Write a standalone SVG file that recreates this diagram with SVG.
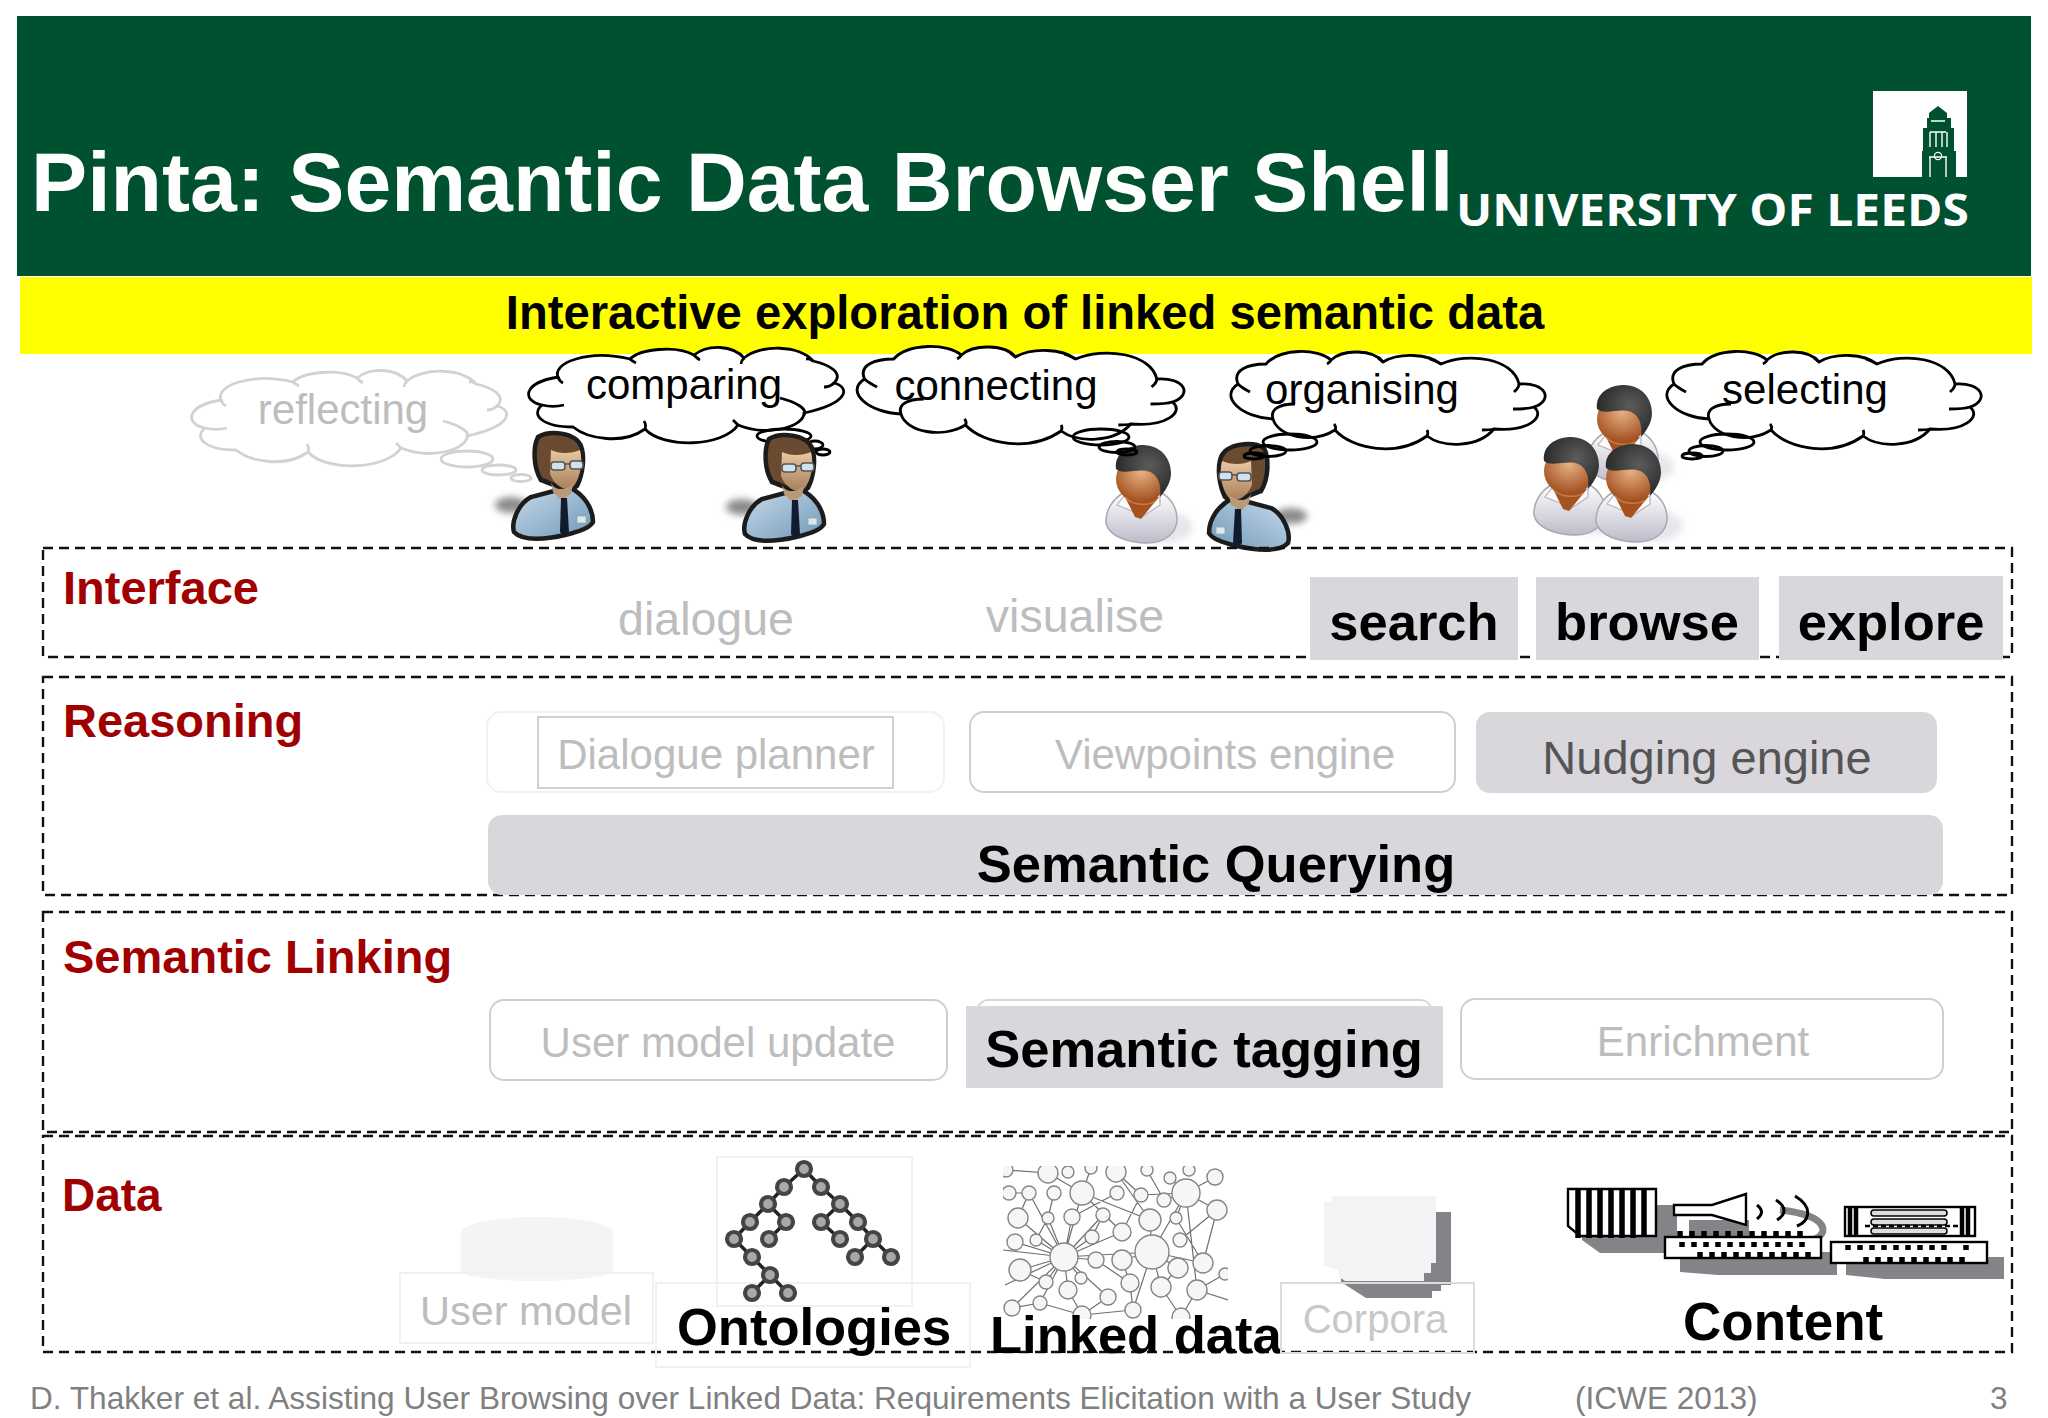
<svg xmlns="http://www.w3.org/2000/svg" xmlns:xlink="http://www.w3.org/1999/xlink" width="2048" height="1418" viewBox="0 0 2048 1418">
<style>
text{font-family:"Liberation Sans",Arial,sans-serif}
.layer{font-size:47px;font-weight:700;fill:#a00000}
.dash{fill:none;stroke:#111;stroke-width:2.4;stroke-dasharray:10 6}
.lbl{font-size:42px;fill:#bdbdbd;text-anchor:middle}
.bold{font-size:52.5px;font-weight:700;fill:#000}
.mid{text-anchor:middle}
.fillbox{fill:#d9d7dc}
.ghost{fill:#fff;stroke:#cfcfcf;stroke-width:2}
.faint{fill:none;stroke:#f1f0f3;stroke-width:2}
.tree{fill:#a8a8a8;stroke:#444;stroke-width:4.2}
.ld{fill:#f6f6f6;stroke:#858585;stroke-width:1.4}
.foot{font-size:31.6px;fill:#808080}
.sh{fill:#858387}
.think{font-size:42px;fill:#000;stroke:none}
</style>
<defs>
<linearGradient id="body" x1="0" y1="0" x2="1" y2="1"><stop offset="0" stop-color="#c8dcec"/><stop offset="1" stop-color="#6f97b7"/></linearGradient>
<linearGradient id="skin" x1="0" y1="0" x2="0" y2="1"><stop offset="0" stop-color="#e9c8a4"/><stop offset="1" stop-color="#a9805a"/></linearGradient>
<radialGradient id="dskin" cx=".5" cy=".35" r=".65"><stop offset="0" stop-color="#e8b184"/><stop offset="1" stop-color="#a04d1c"/></radialGradient>
<radialGradient id="hair" cx=".6" cy=".4" r=".7"><stop offset="0" stop-color="#5c5c5c"/><stop offset="1" stop-color="#222"/></radialGradient>
<linearGradient id="shirt" x1="0" y1="0" x2="0" y2="1"><stop offset="0" stop-color="#fff"/><stop offset="1" stop-color="#bdbbca"/></linearGradient>
<filter id="soft" x="-50%" y="-50%" width="200%" height="200%"><feGaussianBlur stdDeviation="3.5"/></filter>
<clipPath id="ldclip"><rect x="1003" y="1166" width="225" height="153"/></clipPath>
<symbol id="cloud" viewBox="-4 -4 328 106" width="328" height="106" overflow="visible">
<path d="M30,30C24,16 60,2 102,12C112,2 148,-2 166,8C180,-3 205,-2 216,11C232,-3 272,-2 285,14C302,18 316,26 306,36C322,40 322,56 276,66C276,80 240,90 210,78C195,100 135,102 117,82C95,98 60,92 45,80C15,80 2,68 14,58C-6,54 -6,36 30,30Z" fill="inherit"/>
<path d="M30,30C31,33 33,35 35,36M14,58C22,60 28,60 36,58M252,51C268,55 280,62 276,68M306,36C304,38 300,40 296,40M102,12C104,14 106,15 108,16M166,8C168,10 170,12 172,13M216,11C214,13 213,15 213,17M285,14C282,11 280,12 278,12M117,82C118,79 118,77 116,74M210,78C208,76 206,74 205,73" fill="none"/>
</symbol>
<symbol id="cloudB" viewBox="-4 -4 328 106" width="328" height="106" overflow="visible">
<path d="M10,32C4,18 20,12 38,12C52,-4 90,-4 103,8C115,-3 145,-3 155,10C172,0 200,2 213,12C240,0 285,6 291,32C318,30 326,48 306,55C318,65 300,80 266,77C250,96 215,96 199,84C170,105 125,98 107,78C85,92 50,85 45,67C15,66 -10,45 10,32Z" fill="inherit"/>
<path d="M10,32C14,36 18,38 22,40M45,67C42,58 50,52 67,52M285,57C295,57 300,57 306,55M291,32C291,36 288,38 286,40M213,12C208,9 205,8 202,7M155,10C153,8 152,7 150,6M103,8C102,10 101,11 99,12M199,84C200,82 200,80 199,78M107,78C108,76 108,74 106,72M266,77C262,78 258,78 254,78" fill="none"/>
</symbol>
<symbol id="man" viewBox="0 0 104 110" width="104" height="110" overflow="visible">
<ellipse cx="18" cy="73" rx="16" ry="8" fill="#8c8c8c" filter="url(#soft)"/>
<path d="M38,65C25,72 18,90 21,100C30,110 55,107 72,103C85,100 97,96 100,90C100,75 90,62 76,55Z" fill="url(#body)" stroke="#1c1c1c" stroke-width="4.5"/>
<path d="M45,5C56,-2 82,0 88,14C92,24 90,42 84,54C76,62 60,52 48,48C40,35 40,15 45,5Z" fill="#6a4a30" stroke="#1c1c1c" stroke-width="4.5"/>
<path d="M58,18C66,22 78,22 87,18C90,30 88,45 80,55C72,60 62,54 57,42Z" fill="url(#skin)"/>
<path d="M58,50C60,58 70,60 80,52L78,62L68,68L60,60Z" fill="#b99a77"/>
<rect x="58" y="30" width="14" height="8" rx="3" fill="#cfe3ee" stroke="#555" stroke-width="1.6"/>
<rect x="77" y="29" width="13" height="8" rx="3" fill="#cfe3ee" stroke="#555" stroke-width="1.6"/>
<path d="M72,32H77" stroke="#555" stroke-width="1.6"/>
<path d="M68,66H74L76,100L71,105L67,100Z" fill="#111b2c"/>
<rect x="84" y="84" width="9" height="7" fill="#dde8ee" stroke="#8aa" stroke-width=".8"/>
</symbol>
<symbol id="person" viewBox="0 0 90 100" width="90" height="100" overflow="visible">
<ellipse cx="60" cy="82" rx="28" ry="16" fill="#e8e6ec" filter="url(#soft)"/>
<path d="M20,47C6,54 0,68 1,78C4,92 25,98 42,98C60,98 72,88 72,74C72,62 65,52 55,47Z" fill="url(#shirt)" stroke="#a9a7b2" stroke-width="1.5"/>
<path d="M22,47L12,60L27,66L37,72L55,60L55,46Z" fill="#fbfbfb" stroke="#b4b2bc" stroke-width="1.2"/>
<path d="M20,52L54,52L36,74L30,72Z" fill="#a5521f"/>
<ellipse cx="36" cy="34" rx="25" ry="24" fill="url(#dskin)"/>
<path d="M50,56C46,60 28,62 20,52" fill="none" stroke="#c47a4d" stroke-width="1.5"/>
<path d="M11,24C9,8 24,0 38,0C56,0 66,14 66,28C66,38 60,46 55,52C57,38 52,28 42,26C30,24 18,30 11,24Z" fill="url(#hair)"/>
</symbol>
</defs>
<rect width="2048" height="1418" fill="#fff"/>
<g id="header">
<rect x="17" y="16" width="2014" height="260" fill="#00512f"/>
<rect x="20" y="277" width="2012" height="77" fill="#ffff00"/>
<text x="31" y="211" font-size="84.2" font-weight="700" fill="#fff">Pinta: Semantic Data Browser Shell</text>
<text x="1456" y="226" font-size="45" font-weight="700" fill="#fff" style="font-family:'Open Sans',sans-serif" textLength="513" lengthAdjust="spacingAndGlyphs">UNIVERSITY OF LEEDS</text>
<g id="logo">
<path d="M1873,91H1967V177H1956V151H1954V128H1951V118H1947V113L1938,106L1929,113V118H1927V128H1923V151H1922V177H1873Z" fill="#fff"/>
<path d="M1930,132V147M1936,132V147M1942,132V147M1930,132H1946M1947,132V147M1929,157H1947M1930,157V177M1946,157V177M1931,121H1945" stroke="#fff" stroke-width="1.4" fill="none"/>
<circle cx="1938" cy="156" r="3.6" fill="none" stroke="#fff" stroke-width="1.2"/>
</g>
<text x="1025" y="329" font-size="47.2" font-weight="700" class="mid" fill="#000">Interactive exploration of linked semantic data</text>
</g>
<g id="cloud-reflecting" fill="#fff" stroke="#d2d2d2" stroke-width="2.8">
<use xlink:href="#cloud" x="187" y="366"/>
<g fill="none"><ellipse cx="467" cy="459" rx="26" ry="8"/><ellipse cx="499" cy="470" rx="17" ry="5"/><ellipse cx="521" cy="478" rx="10" ry="3.5"/></g>
<text x="343" y="424" class="mid think" style="fill:#bdbdbd">reflecting</text>
</g>
<g id="cloud-comparing" fill="#fff" stroke="#000" stroke-width="2.8">
<use xlink:href="#cloud" x="524" y="343"/>
<g fill="none"><ellipse cx="784" cy="436" rx="27" ry="7"/><ellipse cx="815" cy="445" rx="8" ry="4"/><ellipse cx="823" cy="452" rx="7" ry="3"/></g>
<text x="684" y="399" class="mid think">comparing</text>
</g>
<g id="person-1"><use xlink:href="#man" x="493" y="432"/></g>
<g id="person-2"><use xlink:href="#man" x="724" y="434"/></g>
<g id="cloud-connecting" fill="#fff" stroke="#000" stroke-width="2.8">
<use xlink:href="#cloudB" transform="translate(850,343) scale(1.04,1)"/>
<text x="996" y="400" class="mid think">connecting</text>
</g>
<g id="cloud-organising" fill="#fff" stroke="#000" stroke-width="2.8">
<use xlink:href="#cloudB" x="1224" y="348"/>
<text x="1362" y="404" class="mid think">organising</text>
</g>
<g id="cloud-selecting" fill="#fff" stroke="#000" stroke-width="2.8">
<use xlink:href="#cloudB" x="1660" y="348"/>
<text x="1805" y="404" class="mid think">selecting</text>
</g>
<g id="person-3"><use xlink:href="#person" x="1105" y="445"/></g>
<g id="person-4"><use xlink:href="#man" transform="translate(1309,443) scale(-1,1)"/></g>
<g id="person-group">
<use xlink:href="#person" x="1586" y="385"/>
<use xlink:href="#person" x="1533" y="437"/>
<use xlink:href="#person" x="1595" y="444"/>
</g>
<g id="bubbles" fill="none" stroke="#000" stroke-width="2.8">
<ellipse cx="1101" cy="437" rx="28" ry="8"/><ellipse cx="1117" cy="447" rx="18" ry="5.5"/><ellipse cx="1127" cy="452" rx="10" ry="3"/>
<ellipse cx="1290" cy="442" rx="27" ry="8"/><ellipse cx="1268" cy="451" rx="18" ry="5.5"/><ellipse cx="1254" cy="456" rx="10" ry="3"/>
<ellipse cx="1727" cy="442" rx="27" ry="8"/><ellipse cx="1706" cy="451" rx="17" ry="5.5"/><ellipse cx="1692" cy="456" rx="10" ry="3"/>
</g>
<g id="layer-interface">
<rect class="dash" x="43" y="548" width="1969" height="109"/>
<text class="layer" x="63" y="604">Interface</text>
<text x="706" y="635" class="mid" style="font-size:46.5px;fill:#bdbdbd">dialogue</text>
<text x="1075" y="632" class="mid" style="font-size:46.5px;fill:#bdbdbd">visualise</text>
<g id="search"><rect class="fillbox" x="1310" y="577" width="208" height="83"/><text class="bold mid" x="1414" y="640">search</text></g>
<g id="browse"><rect class="fillbox" x="1536" y="577" width="223" height="83"/><text class="bold mid" x="1647" y="640">browse</text></g>
<g id="explore"><rect class="fillbox" x="1779" y="576" width="224" height="84"/><text class="bold mid" x="1891" y="640">explore</text></g>
</g>
<g id="layer-reasoning">
<rect class="dash" x="43" y="677" width="1969" height="218"/>
<text class="layer" x="63" y="737">Reasoning</text>
<g id="dialogue-planner"><rect class="faint" x="487" y="712" width="457" height="80" rx="14"/><rect x="538" y="717" width="355" height="71" fill="#fff" stroke="#d0d0d0" stroke-width="2"/><text class="lbl" x="716" y="769">Dialogue planner</text></g>
<g id="viewpoints-engine"><rect class="ghost" x="970" y="712" width="485" height="80" rx="14"/><text class="lbl" x="1225" y="769">Viewpoints engine</text></g>
<g id="nudging-engine"><rect class="fillbox" x="1476" y="712" width="461" height="81" rx="14"/><text class="lbl" x="1707" y="774" style="fill:#555;font-size:47px">Nudging engine</text></g>
<g id="semantic-querying"><rect class="fillbox" x="488" y="815" width="1455" height="80" rx="14"/><text class="bold mid" x="1216" y="882">Semantic Querying</text></g>
</g>
<g id="layer-linking">
<rect class="dash" x="43" y="912" width="1969" height="220"/>
<text class="layer" x="63" y="973">Semantic Linking</text>
<g id="user-model-update"><rect class="ghost" x="490" y="1000" width="457" height="80" rx="14"/><text class="lbl" x="718" y="1057">User model update</text></g>
<g id="semantic-tagging"><rect fill="#fff" stroke="#d8d8d8" stroke-width="2" x="977" y="1000" width="455" height="60" rx="12"/><rect class="fillbox" x="966" y="1006" width="477" height="82"/><text class="bold mid" x="1204" y="1067">Semantic tagging</text></g>
<g id="enrichment"><rect class="ghost" x="1461" y="999" width="482" height="80" rx="14"/><text class="lbl" x="1703" y="1056">Enrichment</text></g>
</g>
<g id="layer-data">
<rect class="dash" x="43" y="1136" width="1969" height="216"/>
<text class="layer" x="62" y="1211" style="font-size:46px">Data</text>
<g id="user-model">
<path d="M461,1232C470,1212 604,1212 613,1232V1272C590,1284 480,1284 461,1272Z" fill="#f4f3f6"/>
<rect class="faint" x="400" y="1273" width="253" height="70"/>
<text x="526" y="1325" class="mid" style="font-size:41.5px;fill:#bdbdbd">User model</text>
</g>
<g id="ontologies">
<rect class="faint" x="717" y="1157" width="195" height="149"/>
<rect class="faint" x="656" y="1283" width="314" height="84"/>
<path d="M804,1169L784,1187L768,1204L750,1222L734,1239L752,1257L770,1275L752,1293M804,1169L821,1187L840,1204L821,1222M768,1204L786,1222L769,1239M840,1204L858,1222L873,1239L855,1257M873,1239L891,1257M821,1222L840,1239M770,1275L788,1293" fill="none" stroke="#222" stroke-width="3.5"/>
<g class="tree">
<circle cx="804" cy="1169" r="7"/><circle cx="784" cy="1187" r="7"/><circle cx="821" cy="1187" r="7"/><circle cx="768" cy="1204" r="7"/><circle cx="840" cy="1204" r="7"/><circle cx="750" cy="1222" r="7"/><circle cx="786" cy="1222" r="7"/><circle cx="821" cy="1222" r="7"/><circle cx="858" cy="1222" r="7"/><circle cx="734" cy="1239" r="7"/><circle cx="769" cy="1239" r="7"/><circle cx="840" cy="1239" r="7"/><circle cx="873" cy="1239" r="7"/><circle cx="855" cy="1257" r="7"/><circle cx="891" cy="1257" r="7"/><circle cx="752" cy="1257" r="7"/><circle cx="770" cy="1275" r="7"/><circle cx="752" cy="1293" r="7"/><circle cx="788" cy="1293" r="7"/>
</g>
<text class="bold" x="677" y="1345">Ontologies</text>
</g>
<g id="linked-data">
<g clip-path="url(#ldclip)">
<path d="M1064,1257L1020,1270M1064,1257L1015,1242M1064,1257L1018,1218M1064,1257L1029,1193M1064,1257L1048,1218M1064,1257L1036,1240M1064,1257L1092,1237M1064,1257L1103,1215M1064,1257L1082,1193M1064,1257L1072,1217M1064,1257L1096,1260M1064,1257L1068,1290M1064,1257L1046,1282M1064,1257L1081,1278M1064,1257L1040,1303M1064,1257L1012,1308M1064,1257L1122,1232M1064,1257L1108,1297M1064,1257L1152,1252M1064,1257L1003,1250M1064,1257L1005,1285M1152,1252L1186,1193M1152,1252L1150,1220M1152,1252L1122,1260M1152,1252L1178,1268M1152,1252L1203,1263M1186,1193L1197,1290M1186,1193L1217,1210M1186,1193L1176,1218M1186,1193L1141,1195M1186,1193L1215,1177M1217,1210L1203,1263M1150,1220L1082,1193M1150,1220L1116,1172M1122,1232L1082,1193M1122,1232L1141,1195M1161,1287L1178,1268M1130,1283L1122,1260M1108,1297L1082,1315M1068,1290L1082,1315M1018,1218L1029,1193M1048,1173L1082,1193M1116,1172L1141,1195M1164,1200L1186,1193M1197,1290L1228,1300M1181,1317L1161,1287M1133,1310L1130,1283M1048,1218L1054,1193M1092,1237L1103,1215M1176,1218L1203,1263M1180,1240L1217,1210M1020,1270L1046,1282M1096,1260L1130,1283M1152,1252L1161,1287M1152,1252L1133,1310M1072,1217L1117,1193M1036,1240L1048,1218M1009,1193L1029,1193M1006,1170L1048,1173M1091,1168L1082,1193M1147,1170L1164,1200M1170,1178L1186,1193M1225,1274L1197,1290M1181,1317L1197,1290M1012,1308L1040,1303M1040,1303L1082,1315M1082,1315L1133,1310" fill="none" stroke="#6f6f6f" stroke-width="1.2"/>
<circle class="ld" cx="1064" cy="1257" r="14"/><circle class="ld" cx="1152" cy="1252" r="17"/><circle class="ld" cx="1186" cy="1193" r="14"/><circle class="ld" cx="1082" cy="1193" r="12"/><circle class="ld" cx="1150" cy="1220" r="11"/><circle class="ld" cx="1122" cy="1232" r="9"/><circle class="ld" cx="1122" cy="1260" r="10"/><circle class="ld" cx="1178" cy="1268" r="10"/><circle class="ld" cx="1203" cy="1263" r="10"/><circle class="ld" cx="1217" cy="1210" r="10"/><circle class="ld" cx="1197" cy="1290" r="10"/><circle class="ld" cx="1161" cy="1287" r="10"/><circle class="ld" cx="1130" cy="1283" r="9"/><circle class="ld" cx="1096" cy="1260" r="8"/><circle class="ld" cx="1068" cy="1290" r="9"/><circle class="ld" cx="1020" cy="1270" r="11"/><circle class="ld" cx="1015" cy="1242" r="8"/><circle class="ld" cx="1018" cy="1218" r="10"/><circle class="ld" cx="1029" cy="1193" r="7"/><circle class="ld" cx="1048" cy="1173" r="10"/><circle class="ld" cx="1116" cy="1172" r="10"/><circle class="ld" cx="1141" cy="1195" r="7"/><circle class="ld" cx="1164" cy="1200" r="7"/><circle class="ld" cx="1176" cy="1218" r="6"/><circle class="ld" cx="1117" cy="1193" r="7"/><circle class="ld" cx="1054" cy="1193" r="7"/><circle class="ld" cx="1072" cy="1217" r="8"/><circle class="ld" cx="1103" cy="1215" r="7"/><circle class="ld" cx="1092" cy="1237" r="7"/><circle class="ld" cx="1036" cy="1240" r="6"/><circle class="ld" cx="1048" cy="1218" r="6"/><circle class="ld" cx="1046" cy="1282" r="7"/><circle class="ld" cx="1081" cy="1278" r="6"/><circle class="ld" cx="1108" cy="1297" r="8"/><circle class="ld" cx="1133" cy="1310" r="8"/><circle class="ld" cx="1040" cy="1303" r="7"/><circle class="ld" cx="1012" cy="1308" r="8"/><circle class="ld" cx="1082" cy="1315" r="9"/><circle class="ld" cx="1181" cy="1317" r="9"/><circle class="ld" cx="1215" cy="1177" r="8"/><circle class="ld" cx="1189" cy="1170" r="6"/><circle class="ld" cx="1147" cy="1170" r="6"/><circle class="ld" cx="1170" cy="1178" r="6"/><circle class="ld" cx="1068" cy="1172" r="6"/><circle class="ld" cx="1091" cy="1168" r="6"/><circle class="ld" cx="1009" cy="1193" r="7"/><circle class="ld" cx="1006" cy="1170" r="7"/><circle class="ld" cx="1225" cy="1274" r="6"/><circle class="ld" cx="1180" cy="1240" r="7"/>
</g>
<text class="bold" x="990" y="1353">Linked data</text>
</g>
<g id="corpora">
<path class="sh" d="M1436,1212H1451V1285H1441V1291H1432V1298H1366L1341,1282V1250H1436Z"/>
<path d="M1332,1196H1436V1263H1431V1273H1424V1281H1345L1338,1276V1270L1324,1266V1202H1332Z" fill="#f3f2f5"/>
<rect x="1281" y="1283" width="193" height="70" fill="none" stroke="#dcdcdc" stroke-width="2"/>
<text x="1375" y="1333" class="mid" style="font-size:40px;fill:#c8c8c8">Corpora</text>
</g>
<g id="content">
<path class="sh" d="M1582,1240L1600,1253H1677V1205H1650V1236H1582Z"/>
<rect class="sh" x="1689" y="1220" width="60" height="17"/>
<path d="M1780,1210C1830,1215 1830,1235 1812,1240" fill="none" stroke="#858387" stroke-width="7"/>
<path d="M1568,1226V1189H1656V1236H1580Z" fill="#fff" stroke="#000" stroke-width="2.4"/>
<path d="M1578,1190V1238M1589,1190V1238M1600,1190V1238M1611,1190V1238M1622,1190V1238M1633,1190V1238M1644,1190V1236" stroke="#000" stroke-width="5.5"/>
<path d="M1674,1205H1712L1746,1194V1225L1712,1215H1674Z" fill="#fff" stroke="#000" stroke-width="2.4"/>
<path d="M1757,1205C1763,1210 1763,1214 1757,1219M1776,1200C1788,1208 1785,1215 1777,1220M1795,1196C1815,1208 1808,1222 1797,1226" fill="none" stroke="#000" stroke-width="3"/>
<path class="sh" d="M1680,1258V1272L1718,1275H1837V1252H1821V1258Z"/>
<path class="sh" d="M1846,1262V1275L1885,1279H2004V1257H1987V1262Z"/>
<rect x="1665" y="1237" width="156" height="21" fill="#fff" stroke="#000" stroke-width="2.4"/>
<rect x="1831" y="1242" width="156" height="21" fill="#fff" stroke="#000" stroke-width="2.4"/>
<path d="M1680,1231V1236M1692,1231V1236M1704,1231V1236M1716,1231V1236M1728,1231V1236M1740,1231V1236M1752,1231V1236M1764,1231V1236M1776,1231V1236M1788,1231V1236M1800,1231V1236M1682,1242V1247M1694,1242V1247M1706,1242V1247M1718,1242V1247M1730,1242V1247M1742,1242V1247M1754,1242V1247M1766,1242V1247M1778,1242V1247M1790,1242V1247M1802,1242V1247M1700,1252V1257M1712,1252V1257M1724,1252V1257M1736,1252V1257M1748,1252V1257M1760,1252V1257M1772,1252V1257M1784,1252V1257M1796,1252V1257M1808,1252V1257M1848,1245V1250M1860,1245V1250M1872,1245V1250M1884,1245V1250M1896,1245V1250M1908,1245V1250M1920,1245V1250M1932,1245V1250M1944,1245V1250M1966,1245V1250M1866,1257V1262M1878,1257V1262M1890,1257V1262M1902,1257V1262M1914,1257V1262M1926,1257V1262M1938,1257V1262M1950,1257V1262M1962,1257V1262" stroke="#000" stroke-width="5.5"/>
<rect x="1845" y="1207" width="130" height="29" fill="#fff" stroke="#000" stroke-width="2.4"/>
<path d="M1850,1208V1235M1856,1208V1235M1962,1208V1235M1968,1208V1235" stroke="#000" stroke-width="4.5"/>
<rect x="1871" y="1210" width="76" height="6" rx="3" fill="#ddd" stroke="#000" stroke-width="1.5"/>
<rect x="1871" y="1219" width="76" height="6" rx="3" fill="#ddd" stroke="#000" stroke-width="1.5"/>
<rect x="1871" y="1228" width="76" height="6" rx="3" fill="#ddd" stroke="#000" stroke-width="1.5"/>
<path d="M1865,1226H1960" stroke="#000" stroke-width="2.5" stroke-dasharray="5 3"/>
<text class="bold" x="1683" y="1340" style="font-size:53px">Content</text>
</g>
</g>
<g id="footer">
<text class="foot" x="30" y="1409">D. Thakker et al. Assisting User Browsing over Linked Data: Requirements Elicitation with a User Study</text>
<text class="foot" x="1575" y="1409">(ICWE 2013)</text>
<text class="foot" x="1990" y="1409">3</text>
</g>
</svg>
